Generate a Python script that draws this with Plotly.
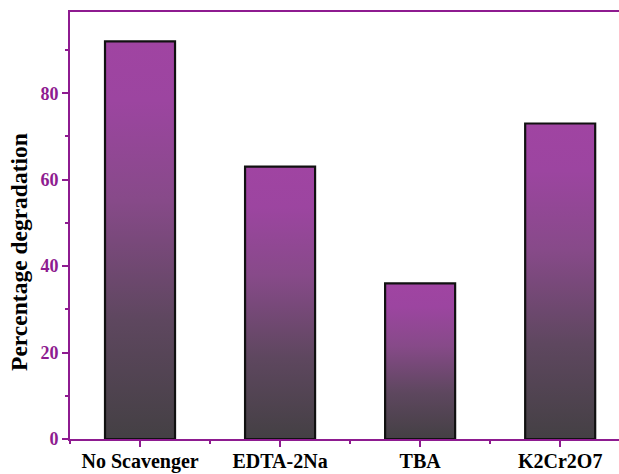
import plotly.graph_objects as go

categories = ["No Scavenger", "EDTA-2Na", "TBA", "K2Cr2O7"]
values = [92, 63, 36, 73]
y_ticks = [0, 20, 40, 60, 80]
y_title = "Percentage degradation"

BAR_W = 0.5
AXIS_COLOR = "#8e1b90"
GRAD = [[0.0, "#444044"], [0.3, "#5e475f"], [0.6, "#874a89"], [0.85, "#9c45a0"], [1.0, "#a044a2"]]

fig = go.Figure()
for i, (c, v) in enumerate(zip(categories, values)):
    x0, x1 = i - BAR_W / 2, i + BAR_W / 2
    fig.add_trace(go.Scatter(
        x=[x0, x0, x1, x1, x0], y=[0, v, v, 0, 0],
        mode="lines", fill="toself",
        fillgradient=dict(type="vertical", colorscale=GRAD, start=0, stop=v),
        line=dict(color="#111111", width=2.2),
        name=c, showlegend=False, hoverinfo="text", text=f"{c}: {v}",
    ))

fig.update_layout(
    width=619, height=474,
    margin=dict(l=70, r=0, t=12, b=35),
    plot_bgcolor="white", paper_bgcolor="white",
    font=dict(family="Liberation Serif", color="black"),
)
fig.add_annotation(
    text=y_title, textangle=-90, xref="paper", yref="paper",
    x=-0.093, y=0.438, xanchor="center", yanchor="middle", showarrow=False,
    font=dict(family="Liberation Serif", size=23.5, color="black", weight="bold"),
)
fig.update_xaxes(
    range=[-0.5, 3.42], tickvals=list(range(len(categories))), ticktext=categories,
    showgrid=False, zeroline=False,
    showline=True, linecolor=AXIS_COLOR, linewidth=2, mirror=True,
    ticks="outside", ticklen=6, tickwidth=2, tickcolor=AXIS_COLOR,
    tickfont=dict(family="Liberation Serif", size=20, color="black", weight="bold"),
    ticklabelstandoff=-3,
    minor=dict(tickvals=[-0.5, 0.5, 1.5, 2.5, 3.5], ticks="outside", ticklen=3, tickwidth=2, tickcolor=AXIS_COLOR),
    automargin=False,
)
fig.update_yaxes(
    range=[0, 98.8], tickvals=y_ticks,
    showgrid=False, zeroline=False,
    showline=True, linecolor=AXIS_COLOR, linewidth=2, mirror=False,
    ticks="outside", ticklen=6, tickwidth=2, tickcolor=AXIS_COLOR,
    tickfont=dict(family="Liberation Serif", size=18, color=AXIS_COLOR, weight="bold"),
    minor=dict(tickvals=[10, 30, 50, 70, 90], ticks="outside", ticklen=3, tickwidth=2, tickcolor=AXIS_COLOR),
    automargin=False,
)
fig.write_html("out.html")
